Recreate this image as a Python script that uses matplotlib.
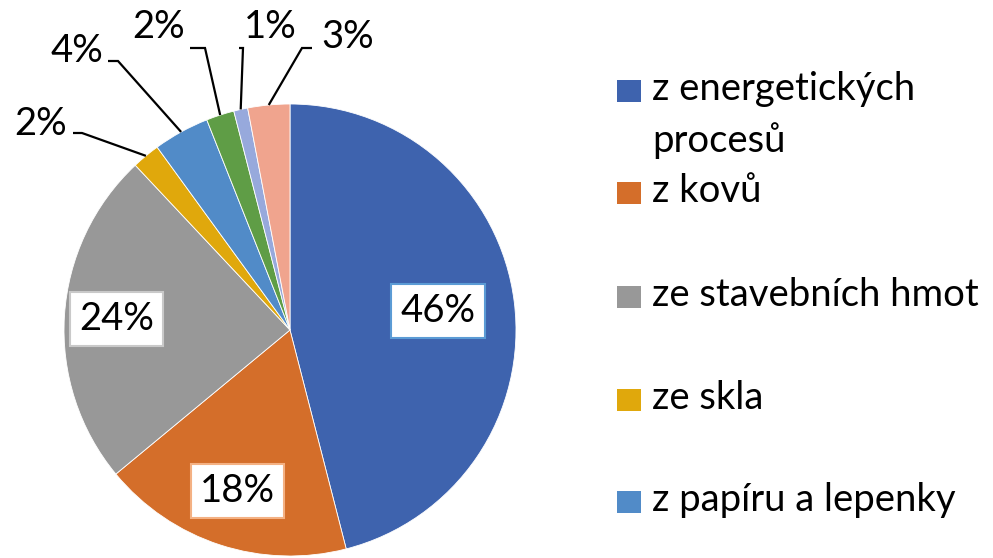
import numpy as np
import matplotlib
matplotlib.use("Agg")
import matplotlib.pyplot as plt
from matplotlib.patches import Rectangle

plt.rcParams['font.family'] = ['Lato', 'DejaVu Sans']

# ---- data ----
values = [46, 18, 24, 2, 4, 2, 1, 3]
pct_labels = ["46%", "18%", "24%", "2%", "4%", "2%", "1%", "3%"]
colors = ["#3E63AE", "#D46E2A", "#989898", "#E0A80C", "#518BC8",
          "#5F9D46", "#97A9DC", "#F0A48E"]
legend_labels = ["z energetických\nprocesů", "z kovů", "ze stavebních hmot",
                 "ze skla", "z papíru a lepenky"]

# ---- layout (pixel coords, y measured from top) ----
W, H = 993, 558
cx, cy, R = 290, 330, 226
FS = 27.5

def Y(py):
    return H - py

fig = plt.figure(figsize=(W / 100, H / 100), dpi=100)
ax = fig.add_axes([0, 0, 1, 1])
wedges, _ = ax.pie(values, colors=colors, startangle=90, counterclock=False,
                   center=(cx, Y(cy)), radius=R,
                   wedgeprops=dict(edgecolor="white", linewidth=0.6))
ax.set_xlim(0, W)
ax.set_ylim(0, H)
ax.set_aspect("equal")
ax.axis("off")

# mid-angles (radians, matplotlib convention) from the wedges
mids = [np.deg2rad((w.theta1 + w.theta2) / 2) for w in wedges]

# inner labels with boxes
inner_frac = [0.66, 0.75, 0.77]
inner_edge = ["#5B9BD5", "#F4B183", "#C9C9C9"]
for i in range(3):
    r = R * inner_frac[i]
    x = cx + r * np.cos(mids[i])
    y = Y(cy) + r * np.sin(mids[i])
    ax.text(x, y, pct_labels[i], fontsize=FS, ha="center", va="center",
            color="black",
            bbox=dict(boxstyle="square,pad=0.24", fc="white",
                      ec=inner_edge[i], lw=1.5))

# outer labels with leader lines
outer_text_pos = [(41, 124), (77, 51), (159, 27), (270, 27), (348, 37)]
outer_line_start = [(73, 133), (108, 61), (190, 48), (239, 48), (312, 48)]
outer_knee = [(82, 133), (118, 61), (205, 48), (243, 48), (302, 48)]
for k, i in enumerate(range(3, 8)):
    ex = cx + R * np.cos(mids[i])
    ey = Y(cy) + R * np.sin(mids[i])
    sx, sy = outer_line_start[k]
    kx, ky = outer_knee[k]
    ax.plot([sx, kx, ex], [Y(sy), Y(ky), ey], color="black", lw=1.6,
            solid_capstyle="butt", solid_joinstyle="miter")
    tx, ty = outer_text_pos[k]
    ax.text(tx, Y(ty), pct_labels[i], fontsize=FS, ha="center", va="center")

# legend
leg_marker_y = [91, 193, 297, 400, 502]
leg_x, leg_w, leg_h = 617, 24, 22
text_x = 652
line_gap = 52
for j, lab in enumerate(legend_labels):
    my = leg_marker_y[j]
    ax.add_patch(Rectangle((leg_x, Y(my + leg_h / 2)), leg_w, leg_h,
                           facecolor=colors[j], edgecolor="none"))
    for n, line in enumerate(lab.split("\n")):
        ax.text(text_x, Y(my + 9 + n * line_gap), line, fontsize=FS,
                ha="left", va="baseline")

fig.savefig("out.png", dpi=100)
